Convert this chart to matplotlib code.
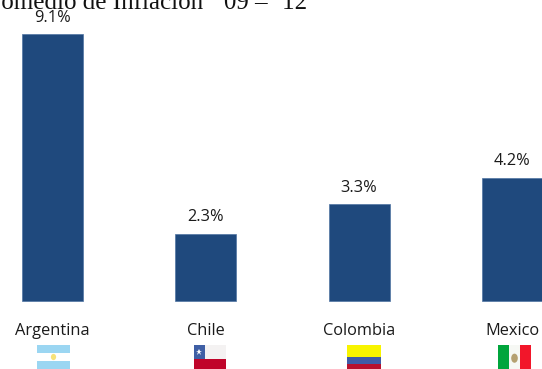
import matplotlib
matplotlib.use('Agg')
import matplotlib.pyplot as plt
from matplotlib.patches import Rectangle, Ellipse

countries = ['Argentina', 'Chile', 'Colombia', 'Mexico']
inflation = [9.1, 2.3, 3.3, 4.2]
value_labels = ['9.1%', '2.3%', '3.3%', '4.2%']
title = 'Promedio de Inflación  ´09 – ´12'

W, H = 542, 369
px_per_cat = 153.3
px_per_unit = 29.33
x0, y0 = 52.5, 301

fig = plt.figure(figsize=(W / 100, H / 100), dpi=100)
ax = fig.add_axes([0, 0, 1, 1])
ax.set_xlim(-x0 / px_per_cat, (W - x0) / px_per_cat)
ax.set_ylim(-(H - y0) / px_per_unit, y0 / px_per_unit)
ax.axis('off')

pos = list(range(len(countries)))
ax.bar(pos, inflation, width=61 / px_per_cat, color='#1F497D', edgecolor='#4F74A3', linewidth=0.5)

for i, v in enumerate(inflation):
    ax.annotate(value_labels[i], (i, v), xytext=(0, 12.5), textcoords='offset pixels',
                ha='center', va='baseline', fontsize=11.8, family='Open Sans', color='#1a1a1a')
    ax.annotate(countries[i], (i, 0), xytext=(0, -34), textcoords='offset pixels',
                ha='center', va='baseline', fontsize=11.8, family='Open Sans', color='#1a1a1a')

fig.text(-21 / W, 1 - 9 / H, title, family='Liberation Serif', fontsize=18, color='#111111',
         ha='left', va='baseline')


def flag_axes(left, right, top=345, bottom=369):
    a = fig.add_axes([left / W, 1 - bottom / H, (right - left) / W, (bottom - top) / H])
    a.set_xlim(0, 1)
    a.set_ylim(0, 1)
    a.axis('off')
    return a


def band(a, x, y, w, h, c):
    a.add_patch(Rectangle((x, y), w, h, facecolor=c, edgecolor='none'))


# Argentina
a = flag_axes(37, 70)
band(a, 0, 2 / 3, 1, 1 / 3, '#9BD6F2')
band(a, 0, 1 / 3, 1, 1 / 3, '#FFFFFF')
band(a, 0, 0, 1, 1 / 3, '#9BD6F2')
a.add_patch(Ellipse((0.5, 0.5), 0.16, 0.26, facecolor='#F7E27A', edgecolor='none'))

# Chile
a = flag_axes(194, 226)
band(a, 0, 0.42, 1, 0.58, '#F4F2F2')
band(a, 0, 0, 1, 0.42, '#C0042A')
band(a, 0, 0.42, 0.33, 0.58, '#3F5FA5')
a.plot([0.16], [0.71], marker='*', ms=5, color='white', mew=0)

# Colombia
a = flag_axes(347, 381)
band(a, 0, 0.5, 1, 0.5, '#F8F400')
band(a, 0, 0.2, 1, 0.3, '#3F5CA8')
band(a, 0, 0, 1, 0.2, '#B8112F')

# Mexico
a = flag_axes(498, 531)
band(a, 0, 0, 1 / 3, 1, '#00A53C')
band(a, 1 / 3, 0, 1 / 3, 1, '#F6F8F4')
band(a, 2 / 3, 0, 1 / 3, 1, '#F2162A')
a.add_patch(Ellipse((0.5, 0.45), 0.2, 0.38, facecolor='#B5A070', edgecolor='none'))

plt.savefig('out.png', dpi=100)
